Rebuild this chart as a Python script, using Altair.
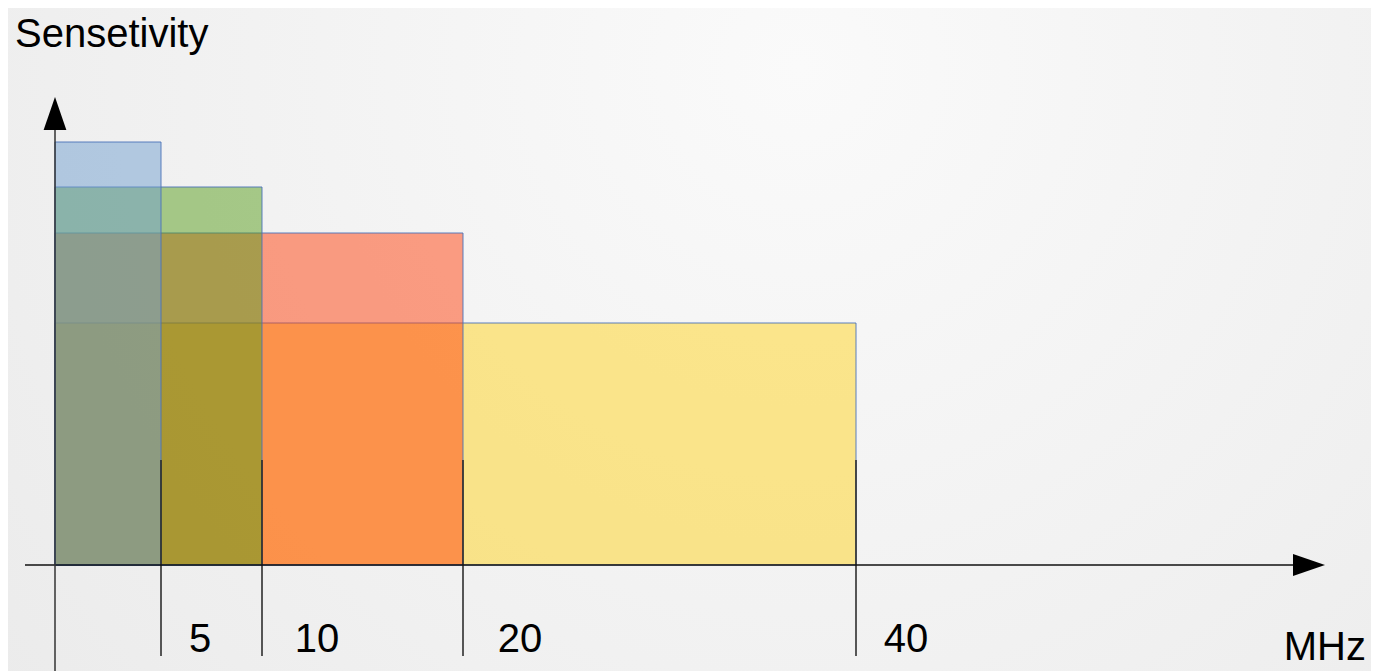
import altair as alt
import pandas as pd

# ---- data (x in MHz, y in arbitrary sensitivity units) ----
series = ["40 MHz", "20 MHz", "10 MHz", "5 MHz"]          # drawn widest first
bar_end = [40.05, 20.4, 10.35, 5.3]
sensitivity = [2.42, 3.32, 3.78, 4.23]
fill_colors = ["#FFD320", "#FF420E", "#579D1C", "#729FCF"]

tick_pos = [5.3, 10.35, 20.4, 40.05]
tick_labels = ["5", "10", "20", "40"]
tick_label_pos = [7.25, 13.1, 23.25, 42.55]

W, H = 1363, 663
FONT = "Liberation Sans Narrow, Liberation Sans, Arial"
FS = 40

xs = alt.Scale(domain=[-2.35, 65.8], nice=False, zero=False)
ys = alt.Scale(domain=[-1.06, 5.57], nice=False, zero=False)

bars_df = pd.DataFrame({"series": series, "x0": 0.0, "x1": bar_end,
                        "y0": 0.0, "y1": sensitivity})
ticks_df = pd.DataFrame({"x": tick_pos, "y0": -0.91, "y1": 1.05})
labels_df = pd.DataFrame({"x": tick_label_pos, "y": -0.87, "t": tick_labels})
xaxis_df = pd.DataFrame({"x0": [-1.5], "x1": [61.9], "y": [0.0]})
yaxis_df = pd.DataFrame({"x": [0.0], "y0": [-1.06], "y1": [4.35]})
xarrow_df = pd.DataFrame({"x": [62.7], "y": [0.0]})
yarrow_df = pd.DataFrame({"x": [0.0], "y": [4.515]})
ytitle_df = pd.DataFrame({"x": [-2.0], "y": [5.18], "t": ["Sensetivity"]})
xtitle_df = pd.DataFrame({"x": [65.55], "y": [-0.95], "t": ["MHz"]})

bg = alt.Chart(pd.DataFrame({"a": [0]})).mark_rect(
    fill=alt.RadialGradient(
        gradient="radial",
        stops=[alt.GradientStop(offset=0, color="#fafafa"),
               alt.GradientStop(offset=1, color="#ebebeb")],
        x1=0.58, y1=0.3, x2=0.58, y2=0.3, r1=0, r2=0.75),
    stroke=None,
).encode(x=alt.value(0), x2=alt.value(W), y=alt.value(0), y2=alt.value(H))

bars = alt.Chart(bars_df).mark_rect(
    fillOpacity=0.5, stroke="#4a72b8", strokeWidth=1, strokeOpacity=0.9
).encode(
    x=alt.X("x0:Q", scale=xs, axis=None),
    x2="x1:Q",
    y=alt.Y("y0:Q", scale=ys, axis=None),
    y2="y1:Q",
    fill=alt.Fill("series:N", scale=alt.Scale(domain=series, range=fill_colors), legend=None),
)

ticks = alt.Chart(ticks_df).mark_rule(color="#222", strokeWidth=1.5).encode(
    x=alt.X("x:Q", scale=xs), y=alt.Y("y0:Q", scale=ys), y2="y1:Q")

xaxis = alt.Chart(xaxis_df).mark_rule(color="#111", strokeWidth=1.5).encode(
    x=alt.X("x0:Q", scale=xs), x2="x1:Q", y=alt.Y("y:Q", scale=ys))

yaxis = alt.Chart(yaxis_df).mark_rule(color="#333", strokeWidth=1.5).encode(
    x=alt.X("x:Q", scale=xs), y=alt.Y("y0:Q", scale=ys), y2="y1:Q")

xarrow = alt.Chart(xarrow_df).mark_point(
    shape="M -1 -0.69 L 1 0 L -1 0.69 Z", size=1024, filled=True, color="black", opacity=1
).encode(x=alt.X("x:Q", scale=xs), y=alt.Y("y:Q", scale=ys))

yarrow = alt.Chart(yarrow_df).mark_point(
    shape="M -0.69 1 L 0 -1 L 0.69 1 Z", size=1089, filled=True, color="black", opacity=1
).encode(x=alt.X("x:Q", scale=xs), y=alt.Y("y:Q", scale=ys))

labels = alt.Chart(labels_df).mark_text(
    font=FONT, fontSize=FS, color="black", align="center", baseline="alphabetic"
).encode(x=alt.X("x:Q", scale=xs), y=alt.Y("y:Q", scale=ys), text="t:N")

ytitle = alt.Chart(ytitle_df).mark_text(
    font=FONT, fontSize=FS, color="black", align="left", baseline="alphabetic"
).encode(x=alt.X("x:Q", scale=xs), y=alt.Y("y:Q", scale=ys), text="t:N")

xtitle = alt.Chart(xtitle_df).mark_text(
    font=FONT, fontSize=FS, color="black", align="right", baseline="alphabetic"
).encode(x=alt.X("x:Q", scale=xs), y=alt.Y("y:Q", scale=ys), text="t:N")

chart = alt.layer(bg, bars, ticks, xaxis, yaxis, xarrow, yarrow, labels, ytitle, xtitle).properties(
    width=W, height=H,
    autosize=alt.AutoSizeParams(type="none"),
    padding=0,
    background="#eeeeee",
).configure_view(stroke=None)

chart.save("out.html", embed_options={"renderer": "svg", "actions": False})
